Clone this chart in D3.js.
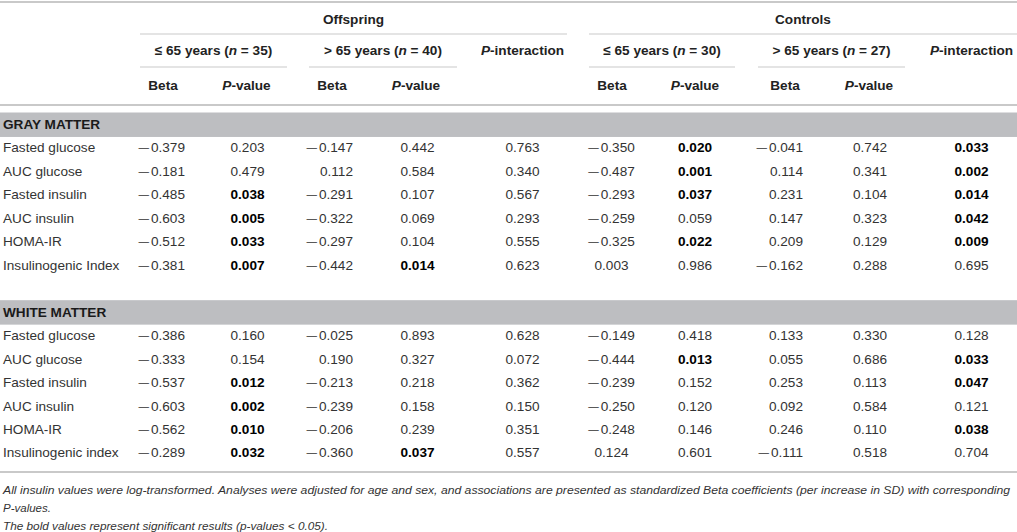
<!DOCTYPE html>
<html>
<head>
<meta charset="utf-8">
<script src="https://cdnjs.cloudflare.com/ajax/libs/d3/7.8.5/d3.min.js"></script>
<style>
  body { margin: 0; background: #fff; }
  svg { display: block; font-family: "Liberation Sans", Arial, Helvetica, sans-serif; }
</style>
</head>
<body>
<svg id="tbl" width="1017" height="532"></svg>
<script>
// row labels
var labelsGray = ["Fasted glucose", "AUC glucose", "Fasted insulin", "AUC insulin", "HOMA-IR", "Insulinogenic Index"];
var labelsWhite = ["Fasted glucose", "AUC glucose", "Fasted insulin", "AUC insulin", "HOMA-IR", "Insulinogenic index"];

// GRAY MATTER
var grayOffYoungBeta = [-0.379, -0.181, -0.485, -0.603, -0.512, -0.381];
var grayOffYoungP    = [0.203, 0.479, 0.038, 0.005, 0.033, 0.007];
var grayOffOldBeta   = [-0.147, 0.112, -0.291, -0.322, -0.297, -0.442];
var grayOffOldP      = [0.442, 0.584, 0.107, 0.069, 0.104, 0.014];
var grayOffPint      = [0.763, 0.340, 0.567, 0.293, 0.555, 0.623];
var grayCtlYoungBeta = [-0.350, -0.487, -0.293, -0.259, -0.325, 0.003];
var grayCtlYoungP    = [0.020, 0.001, 0.037, 0.059, 0.022, 0.986];
var grayCtlOldBeta   = [-0.041, 0.114, 0.231, 0.147, 0.209, -0.162];
var grayCtlOldP      = [0.742, 0.341, 0.104, 0.323, 0.129, 0.288];
var grayCtlPint      = [0.033, 0.002, 0.014, 0.042, 0.009, 0.695];

// WHITE MATTER
var whiteOffYoungBeta = [-0.386, -0.333, -0.537, -0.603, -0.562, -0.289];
var whiteOffYoungP    = [0.160, 0.154, 0.012, 0.002, 0.010, 0.032];
var whiteOffOldBeta   = [-0.025, 0.190, -0.213, -0.239, -0.206, -0.360];
var whiteOffOldP      = [0.893, 0.327, 0.218, 0.158, 0.239, 0.037];
var whiteOffPint      = [0.628, 0.072, 0.362, 0.150, 0.351, 0.557];
var whiteCtlYoungBeta = [-0.149, -0.444, -0.239, -0.250, -0.248, 0.124];
var whiteCtlYoungP    = [0.418, 0.013, 0.152, 0.120, 0.146, 0.601];
var whiteCtlOldBeta   = [0.133, 0.055, 0.253, 0.092, 0.246, -0.111];
var whiteCtlOldP      = [0.330, 0.686, 0.113, 0.584, 0.110, 0.518];
var whiteCtlPint      = [0.128, 0.033, 0.047, 0.121, 0.038, 0.704];

var groups = ["Offspring", "Controls"];
var ageGroups = [["≤ 65 years (", "n", " = 35)"], ["> 65 years (", "n", " = 40)"],
                 ["≤ 65 years (", "n", " = 30)"], ["> 65 years (", "n", " = 27)"]];
var sections = ["GRAY MATTER", "WHITE MATTER"];
var footnotes = [
  "All insulin values were log-transformed. Analyses were adjusted for age and sex, and associations are presented as standardized Beta coefficients (per increase in SD) with corresponding",
  "P-values.",
  "The bold values represent significant results (p-values < 0.05)."
];

var colKeys = ["b1", "p1", "b2", "p2", "pi1", "b3", "p3", "b4", "p4", "pi2"];
var sectionData = [
  [grayOffYoungBeta, grayOffYoungP, grayOffOldBeta, grayOffOldP, grayOffPint,
   grayCtlYoungBeta, grayCtlYoungP, grayCtlOldBeta, grayCtlOldP, grayCtlPint],
  [whiteOffYoungBeta, whiteOffYoungP, whiteOffOldBeta, whiteOffOldP, whiteOffPint,
   whiteCtlYoungBeta, whiteCtlYoungP, whiteCtlOldBeta, whiteCtlOldP, whiteCtlPint]
];

var W = 1017;
var svg = d3.select("#tbl");
var fmt = d3.format(".3f");
var fs = 13.6;
var textCol = "#333";
var lineCol = "#c9c9c9";

// column centres / anchors
var colX = d3.scaleOrdinal().domain(colKeys)
  .range([185, 247.5, 353, 417.5, 522.5, 611.5, 695, 803, 870, 971.5]);
var colAnchor = d3.scaleOrdinal().domain(colKeys)
  .range(["end", "middle", "end", "middle", "middle", "middle", "middle", "end", "middle", "middle"]);
var isP = function(k) { return k.charAt(0) == "p"; };

// body rows: header, 6 rows, blank, header, 6 rows
var rowY = d3.scaleBand().domain(d3.range(15)).range([112.5, 112.5 + 15 * 23.46]);

// group spans
var groupSpan = d3.scaleOrdinal().domain(groups).range([[140, 567], [589, 1017]]);
var ageSpan = d3.scaleOrdinal().domain(d3.range(4)).range([[140, 287], [309, 457], [589, 735], [758, 905]]);

// top rule
svg.append("line").attr("x1", 0).attr("x2", W).attr("y1", 2).attr("y2", 2)
  .attr("stroke", lineCol).attr("stroke-width", 2);

groups.forEach(function(g) {
  var s = groupSpan(g);
  svg.append("text")
    .attr("x", (s[0] + s[1]) / 2).attr("y", 19).attr("dy", "0.35em")
    .attr("text-anchor", "middle").attr("font-weight", "bold").attr("font-size", fs)
    .attr("fill", "#222").text(g);
  svg.append("line").attr("x1", s[0]).attr("x2", s[1]).attr("y1", 34).attr("y2", 34)
    .attr("stroke", lineCol).attr("stroke-width", 1.2);
});

ageGroups.forEach(function(a, i) {
  var s = ageSpan(i);
  var t = svg.append("text")
    .attr("x", (s[0] + s[1]) / 2).attr("y", 50).attr("dy", "0.35em")
    .attr("text-anchor", "middle").attr("font-weight", "bold").attr("font-size", fs)
    .attr("fill", "#222");
  t.append("tspan").text(a[0]);
  t.append("tspan").attr("font-style", "italic").text(a[1]);
  t.append("tspan").text(a[2]);
  svg.append("line").attr("x1", s[0]).attr("x2", s[1]).attr("y1", 67).attr("y2", 67)
    .attr("stroke", lineCol).attr("stroke-width", 1.2);
});

// P-interaction headers
["pi1", "pi2"].forEach(function(k) {
  var t = svg.append("text")
    .attr("x", colX(k)).attr("y", 50).attr("dy", "0.35em")
    .attr("text-anchor", "middle").attr("font-weight", "bold").attr("font-size", fs)
    .attr("fill", "#222");
  t.append("tspan").attr("font-style", "italic").text("P");
  t.append("tspan").text("-interaction");
});

// Beta / P-value headers
var subHeadX = d3.scaleOrdinal().domain(["b1", "p1", "b2", "p2", "b3", "p3", "b4", "p4"])
  .range([163, 246.5, 332, 416, 612, 695, 785, 869]);
subHeadX.domain().forEach(function(k) {
  var t = svg.append("text")
    .attr("x", subHeadX(k)).attr("y", 85).attr("dy", "0.35em")
    .attr("text-anchor", "middle").attr("font-weight", "bold").attr("font-size", fs)
    .attr("fill", "#222");
  if (isP(k)) {
    t.append("tspan").attr("font-style", "italic").text("P");
    t.append("tspan").text("-value");
  } else {
    t.text("Beta");
  }
});

svg.append("line").attr("x1", 0).attr("x2", W).attr("y1", 105).attr("y2", 105)
  .attr("stroke", lineCol).attr("stroke-width", 2);

// body
sections.forEach(function(sec, si) {
  var base = si * 8;
  svg.append("rect")
    .attr("x", 0).attr("y", rowY(base)).attr("width", W).attr("height", rowY.bandwidth() + 1)
    .attr("fill", "#bdbec1");
  svg.append("text")
    .attr("x", 3).attr("y", rowY(base) + rowY.bandwidth() / 2).attr("dy", "0.35em")
    .attr("font-weight", "bold").attr("font-size", fs).attr("fill", "#1a1a1a").text(sec);

  var labels = si == 0 ? labelsGray : labelsWhite;
  labels.forEach(function(lab, ri) {
    var y = rowY(base + 1 + ri) + rowY.bandwidth() / 2;
    var baseline = y + 0.35 * fs;
    svg.append("text")
      .attr("x", 3).attr("y", baseline)
      .attr("font-size", fs).attr("fill", textCol).text(lab);

    colKeys.forEach(function(k, ci) {
      var v = sectionData[si][ci][ri];
      var bold = isP(k) && v < 0.05;
      var s = fmt(v);
      var t = svg.append("text")
        .attr("x", colX(k)).attr("y", baseline)
        .attr("text-anchor", colAnchor(k))
        .attr("font-size", fs)
        .attr("font-weight", bold ? "bold" : "normal")
        .attr("fill", bold ? "#000" : textCol);
      if (v < 0) {
        // the source uses a long thin minus
        t.append("tspan").attr("font-size", 10.5).attr("dy", -1).text("—");
        t.append("tspan").attr("dx", 2).attr("dy", 1).text(s.slice(1));
      } else {
        t.text(s);
      }
    });
  });
});

svg.append("line").attr("x1", 0).attr("x2", W).attr("y1", 472).attr("y2", 472)
  .attr("stroke", lineCol).attr("stroke-width", 2);

// footnotes
var footY = [490, 508, 526];
var footLen = [1007, null, 325];
footnotes.forEach(function(f, i) {
  var t = svg.append("text")
    .attr("x", 3).attr("y", footY[i]).attr("dy", "0.35em")
    .attr("font-size", 11.5).attr("font-style", "italic")
    .attr("font-family", "'Liberation Sans Narrow', 'Arial Narrow', 'Liberation Sans', sans-serif")
    .attr("fill", "#333").text(f);
  if (footLen[i]) t.attr("textLength", footLen[i]).attr("lengthAdjust", "spacingAndGlyphs");
});
</script>
</body>
</html>
